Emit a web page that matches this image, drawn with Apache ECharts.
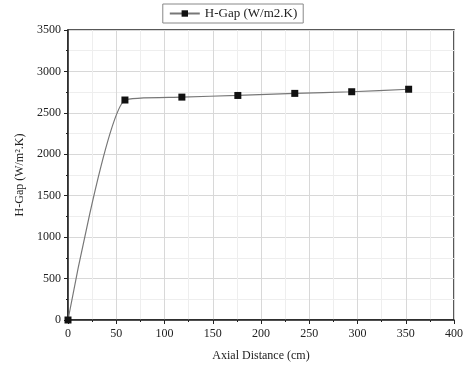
<!DOCTYPE html>
<html>
<head>
<meta charset="utf-8">
<script src="https://cdn.jsdelivr.net/npm/echarts@6/dist/echarts.min.js"></script>
<style>
  html, body { margin: 0; padding: 0; background: #fff; }
  #chart { width: 466px; height: 367px; }
</style>
</head>
<body>
<div id="chart"></div>
<script>
// values
var axialDistance = [0, 59, 118, 176, 235, 294, 353];
var hGap = [0, 2655, 2690, 2710, 2735, 2755, 2785];
var seriesName = 'H-Gap (W/m2.K)';

var font = '"Liberation Serif", "DejaVu Serif", serif';

var points = axialDistance.map(function (x, i) { return [x, hGap[i]]; });

var myChart = echarts.init(document.getElementById('chart'));
var option = {
  animation: false,
  textStyle: { fontFamily: font },
  legend: {
    top: 4,
    left: 'center',
    data: [seriesName],
    borderColor: '#888',
    borderWidth: 1,
    padding: [3, 6],
    itemWidth: 30,
    itemHeight: 8,
    textStyle: { fontFamily: font, fontSize: 13, color: '#222' }
  },
  grid: {
    left: 68,
    right: 11,
    top: 30,
    bottom: 45,
    show: true,
    borderColor: '#222',
    borderWidth: 1.5
  },
  xAxis: {
    type: 'value',
    min: 0,
    max: 400,
    interval: 50,
    name: 'Axial Distance (cm)',
    nameLocation: 'middle',
    nameGap: 30,
    nameTextStyle: { fontFamily: font, fontSize: 12, color: '#222' },
    axisLine: { show: true, lineStyle: { color: '#222', width: 1.5 } },
    axisTick: { show: true, inside: false, length: 4, lineStyle: { color: '#222' } },
    minorTick: { show: true, splitNumber: 2, length: 2, lineStyle: { color: '#222' } },
    axisLabel: { fontFamily: font, fontSize: 12, color: '#222', margin: 8 },
    splitLine: { show: true, lineStyle: { color: '#d8d8d8', width: 1 } },
    minorSplitLine: { show: true, lineStyle: { color: '#eeeeee', width: 1 } }
  },
  yAxis: {
    type: 'value',
    min: 0,
    max: 3500,
    interval: 500,
    name: 'H-Gap (W/m\u00B2.K)',
    nameLocation: 'middle',
    nameGap: 40,
    nameTextStyle: { fontFamily: font, fontSize: 12, color: '#222' },
    axisLine: { show: true, lineStyle: { color: '#222', width: 1.5 } },
    axisTick: { show: true, inside: false, length: 4, lineStyle: { color: '#222' } },
    minorTick: { show: true, splitNumber: 2, length: 2, lineStyle: { color: '#222' } },
    axisLabel: {
      fontFamily: font, fontSize: 12, color: '#222', margin: 7,
      formatter: function (v) { return String(v); }
    },
    splitLine: { show: true, lineStyle: { color: '#d8d8d8', width: 1 } },
    minorSplitLine: { show: true, lineStyle: { color: '#eeeeee', width: 1 } }
  },
  series: [
    {
      name: seriesName,
      type: 'line',
      data: points,
      smooth: 0.2,
      symbol: 'rect',
      symbolSize: 7,
      itemStyle: { color: '#111' },
      lineStyle: { color: '#777', width: 1.2 }
    }
  ]
};
myChart.setOption(option);
</script>
</body>
</html>
